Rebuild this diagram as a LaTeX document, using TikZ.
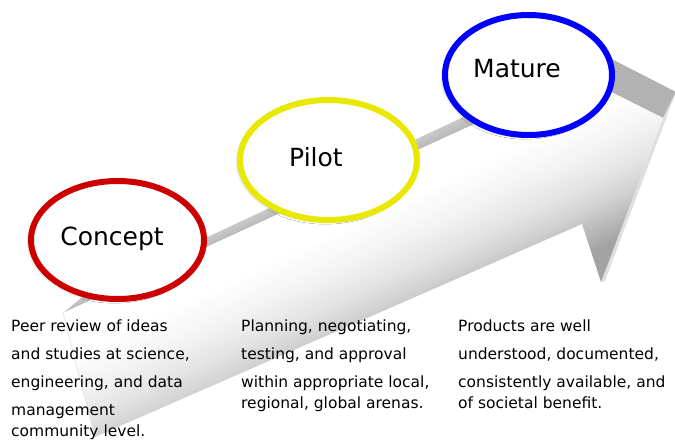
\documentclass[tikz,border=0pt]{standalone}
\usepackage{fontspec}
\setmainfont{DejaVu Sans}
\usetikzlibrary{shapes.geometric, shadows.blur}
\definecolor{conceptred}{RGB}{204,0,0}
\definecolor{pilotyellow}{RGB}{232,232,0}
\definecolor{matureblue}{RGB}{0,0,255}
\pgfdeclareverticalshading{arrowface}{100bp}{color(0bp)=(gray!72); color(39.5bp)=(gray!72);
  color(44bp)=(gray!36); color(46.5bp)=(gray!22); color(50bp)=(gray!9); color(54bp)=(white); color(100bp)=(white)}
\pgfdeclareverticalshading{arrowtop}{100bp}{color(0bp)=(gray!65); color(48bp)=(gray!65);
  color(52bp)=(gray!30); color(100bp)=(gray!30)}

\begin{document}
\begin{tikzpicture}[x=1pt,y=-1pt,
        stage/.style={ellipse, draw=#1, line width=6pt, fill=white, inner sep=0pt,
          blur shadow={shadow xshift=-3pt, shadow yshift=-2pt, shadow opacity=18}},
        stage name/.style={anchor=base, font=\fontsize{25}{25}\selectfont},
        blurb/.style={anchor=north west, align=left, inner sep=0pt, font=\fontsize{15.5}{21}\selectfont},
        ]
        \clip (0,0) rectangle (675,441);

        % front face of the arrow
        \coordinate (tt)    at (63,313);
        \coordinate (tb)    at (95,437);
        \coordinate (hb)    at (579,76);
        \coordinate (tip)   at (663,118);
        \coordinate (barb)  at (601,282);
        \coordinate (notch) at (582,224);
        % same corners pushed back
        \coordinate (tt')   at (86,294);
        \coordinate (hb')   at (600,53);
        \coordinate (tip')  at (676,92);
        \coordinate (barb') at (605,281);

        \shade[shading=arrowtop, shading angle=25]
          (tt) -- (hb) -- (hb') -- (tt') -- cycle;
        \fill[gray!60] (hb) -- (tip) -- (tip') -- (hb') -- cycle;
        \fill[gray!25] (tip) -- (tip') -- (barb') -- (barb) -- cycle;
        \shade[shading=arrowface, shading angle=25]
          (tt) -- (hb) -- (tip) -- (barb) -- (notch) -- (tb) -- cycle;
        \draw[gray!25, line width=.6pt] (tt) -- (tb);

        \node[stage=conceptred,  minimum width=173pt, minimum height=118pt] (concept) at (117.5,240) {};
        \node[stage=pilotyellow, minimum width=177pt, minimum height=120pt] (pilot)   at (328.5,160) {};
        \node[stage=matureblue,  minimum width=167pt, minimum height=120pt] (mature)  at (528.5,75)  {};

        \node[stage name] (concept-name) at (112,245) {Concept};
        \node[stage name] (pilot-name)   at (316,167) {Pilot};
        \node[stage name] (mature-name)  at (517,78)  {Mature};

        \node[blurb] (concept-text) at (11,320)
          {Peer review of ideas\\[7pt] and studies at science,\\[7pt] engineering, and data\\[7pt] management\\ community level.};
        \node[blurb] (pilot-text) at (241,320)
          {Planning, negotiating,\\[7pt] testing, and approval\\[7pt] within appropriate local,\\ regional, global arenas.};
        \node[blurb] (mature-text) at (458,320)
          {Products are well\\[7pt] understood, documented,\\[7pt] consistently available, and\\ of societal benefit.};
      \end{tikzpicture}
\end{document}
